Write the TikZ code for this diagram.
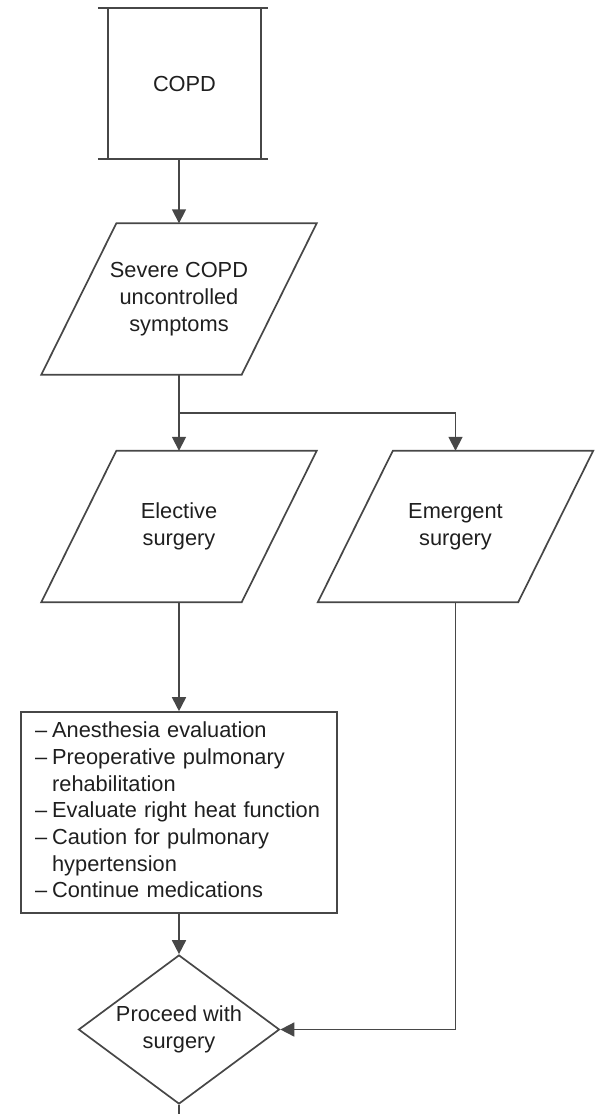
\documentclass[tikz,border=0pt]{standalone}
\usepackage{fontspec}
\setmainfont{Liberation Sans}
\usepackage{tikz}
\usetikzlibrary{calc}
\usetikzlibrary{shapes.geometric}
\usetikzlibrary{arrows.meta}
\tikzset{
  flow/.style={draw=black!72, line width=1.7pt},
  arr/.style={flow, -{Triangle[length=14pt,width=14pt]}},
  flowtext/.style={text=black!88, align=center, font=\fontsize{21.8}{26.7}\selectfont},
}
\newcommand{\slantbox}[4]{ \node[flowtext, minimum width=200pt, minimum height=151pt, inner sep=0pt] (#1) at ( #2 , #3 ){#4}; \draw[flow] ([xshift=37.5pt]#1.north west) -- ([xshift=37.5pt]#1.north east) -- ([xshift=-37.5pt]#1.south east) -- ([xshift=-37.5pt]#1.south west) -- cycle;}

\begin{document}
\begin{tikzpicture}[x=1pt,y=-1pt]
        \useasboundingbox (0,0) rectangle (603,1114);
        % top box
        \node[flowtext, minimum width=153pt, minimum height=151pt, inner sep=0pt] (copd) at ( 184.5 , 83.5 ){COPD};
        \draw[flow] (copd.north west) -- (copd.south west) (copd.north east) -- (copd.south east);
        \draw[flow] ([xshift=-10pt]copd.north west) -- ([xshift=7pt]copd.north east);
        \draw[flow] ([xshift=-10pt]copd.south west) -- ([xshift=7pt]copd.south east);

        % slanted boxes
        \slantbox{severe}{179}{299}{Severe COPD\\uncontrolled\\symptoms}
        \slantbox{elective}{179}{526.5}{Elective\\surgery}
        \slantbox{emergent}{455.5}{526.5}{Emergent\\surgery}

        % checks
        \node[flowtext, draw=black!72, line width=1.7pt, align=left, text width=288pt, inner xsep=14pt, inner ysep=7pt] (checks) at ( 179 , 812.5 ){%
          \begin{tabular}{@{}l@{\hspace{5pt}}l@{}}
            \textendash & Anesthesia evaluation\\
            \textendash & Preoperative pulmonary\\
            & rehabilitation\\
            \textendash & Evaluate right heat function\\
            \textendash & Caution for pulmonary\\
            & hypertension\\
            \textendash & Continue medications
          \end{tabular}};

        % decision
        \node[flowtext, shape=diamond, draw=black!72, line width=1.7pt, aspect=1.35, inner sep=0pt, minimum width=201pt, minimum height=149pt] (decide) at ( 179 , 1029.5 ){Proceed with\\surgery};

        \coordinate (split) at ( 179 , 413 );
        \coordinate (stub) at ( 179 , 1114 );

        % arrows
        \draw[arr] (copd.south -| severe.north) -- (severe.north);
        \draw[flow] (severe.south) -- (split);
        \draw[arr] (split) -- (elective.north);
        \draw[arr] (split) -| (emergent.north);
        \draw[arr] (elective.south) -- (checks.north);
        \draw[arr] (checks.south) -- (decide.north);
        \draw[arr] (emergent.south) |- (decide.east);
        \draw[flow] (decide.south) -- (stub);
\end{tikzpicture}
\end{document}
